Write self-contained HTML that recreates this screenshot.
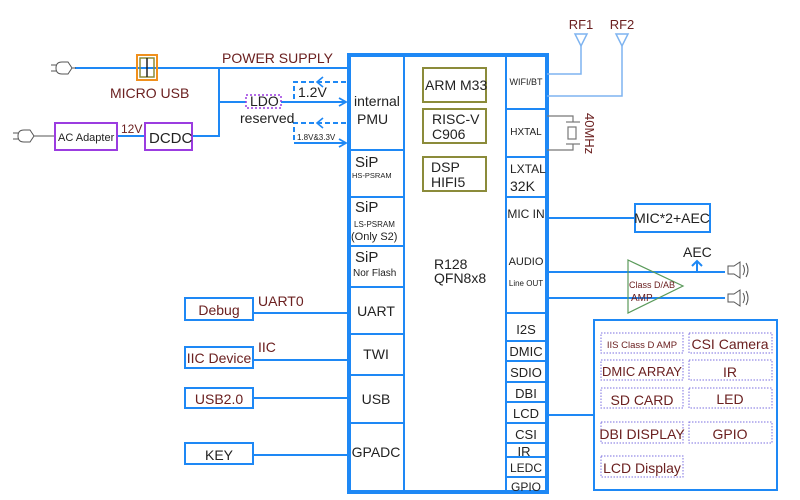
<!DOCTYPE html>
<html><head><meta charset="utf-8"><style>
html,body{margin:0;padding:0;background:#fff;}
svg{display:block;font-family:"Liberation Sans",sans-serif;}
</style></head><body>
<svg width="800" height="500" viewBox="0 0 800 500" xmlns="http://www.w3.org/2000/svg">
<defs>
<marker id="ar" markerWidth="10" markerHeight="10" refX="8" refY="5" orient="auto" markerUnits="userSpaceOnUse">
<path d="M1,1 L8,5 L1,9" fill="none" stroke="#1e88f5" stroke-width="1.8"/></marker>
</defs>
<g stroke="#1e88f5" fill="none" stroke-width="2">
<line x1="75" y1="68" x2="348" y2="68"/>
<line x1="219" y1="68" x2="219" y2="137"/>
<line x1="219" y1="102" x2="246" y2="102"/>
<line x1="281" y1="102" x2="346" y2="102" marker-end="url(#ar)"/>
<line x1="117" y1="136" x2="145" y2="136"/>
<line x1="192" y1="136" x2="219" y2="136"/>
<line x1="294" y1="143" x2="346" y2="143" marker-end="url(#ar)"/>
<g stroke-dasharray="5,3">
<polyline points="346,82 294,82 294,102"/>
<polyline points="346,123 294,123 294,143"/>
</g>
<path d="M323,77 L317,82 L323,87" stroke-width="1.6"/>
<path d="M323,118 L317,123 L323,128" stroke-width="1.6"/>
<line x1="253" y1="313" x2="349" y2="313"/>
<line x1="253" y1="360" x2="349" y2="360"/>
<line x1="253" y1="398" x2="349" y2="398"/>
<line x1="253" y1="455" x2="349" y2="455"/>
<rect x="185" y="298" width="68" height="22"/>
<rect x="185" y="347" width="68" height="21"/>
<rect x="185" y="388" width="68" height="20"/>
<rect x="185" y="443" width="68" height="21"/>
<line x1="547" y1="218" x2="635" y2="218"/>
<rect x="635" y="204" width="75" height="28"/>
<line x1="547" y1="272" x2="725" y2="272"/>
<line x1="547" y1="298" x2="725" y2="298"/>
<path d="M697,272 V262 M692,266 L697,261 L702,266"/>
<line x1="547" y1="415" x2="594" y2="415"/>
<rect x="594" y="320" width="183" height="170"/>
<rect x="349" y="55" width="198" height="437" stroke-width="4"/>
<line x1="404" y1="55" x2="404" y2="492"/>
<line x1="506" y1="55" x2="506" y2="492"/>
<path d="M349,150H404 M349,197H404 M349,246H404 M349,287H404 M349,334H404 M349,375H404 M349,423H404"/>
<path d="M506,109H547 M506,157H547 M506,197H547 M506,313H547 M506,341H547 M506,361H547 M506,382H547 M506,402H547 M506,423H547 M506,443H547 M506,457H547 M506,477H547"/>
</g>
<g stroke="#7fb4f0" fill="none" stroke-width="1.5">
<polyline points="547,74 581,74 581,46"/>
<polyline points="547,96 622,96 622,46"/>
<path d="M575,34 L587,34 L581,46 Z"/>
<path d="M616,34 L628,34 L622,46 Z"/>
</g>
<g stroke="#777" fill="none" stroke-width="1.2">
<polyline points="547,116 573,116 573,122"/>
<polyline points="547,150 573,150 573,144"/>
<line x1="566" y1="122" x2="580" y2="122"/><line x1="566" y1="144" x2="580" y2="144"/>
<rect x="568" y="127" width="8" height="12"/>
</g>
<text x="0" y="0" transform="translate(585,113) rotate(90)" font-size="13" fill="#6b2020">40MHz</text>
<path d="M628,260 L683,286 L628,313 Z" fill="none" stroke="#5a9a5a" stroke-width="1.2"/>
<text x="629" y="288" font-size="9" fill="#6b2020">Class D/AB</text>
<text x="631" y="301" font-size="10" fill="#6b2020">AMP</text>
<g stroke="#555" fill="none" stroke-width="1">
<path d="M728,266 L734,266 L740,262 L740,278 L734,274 L728,274 Z"/>
<path d="M743,265 Q746,270 743,275 M746,263 Q750,270 746,277"/>
<path d="M728,294 L734,294 L740,290 L740,306 L734,302 L728,302 Z"/>
<path d="M743,293 Q746,298 743,303 M746,291 Q750,298 746,305"/>
</g>
<text x="683" y="257" font-size="14" fill="#222">AEC</text>
<g stroke="#555" fill="none" stroke-width="1">
<path d="M68,62 L62,62 Q56,62 56,68 Q56,74 62,74 L68,74 L72,68 Z"/>
<path d="M56,65 H51 M56,71 H51 M72,68 H76"/>
<path d="M30,130 L24,130 Q18,130 18,136 Q18,142 24,142 L30,142 L34,136 Z"/>
<path d="M18,133 H13 M18,139 H13 M34,136 H55"/>
</g>
<rect x="137" y="55" width="20" height="25" fill="none" stroke="#f0901c" stroke-width="2"/>
<rect x="140" y="58" width="14" height="19" fill="none" stroke="#8b8b3a" stroke-width="1.5"/>
<line x1="147" y1="58" x2="147" y2="77" stroke="#222" stroke-width="1.5"/>
<rect x="55" y="123" width="62" height="27" fill="none" stroke="#9b3ce0" stroke-width="2"/>
<rect x="145" y="123" width="47" height="27" fill="none" stroke="#9b3ce0" stroke-width="2"/>
<rect x="246" y="95" width="35" height="13" fill="none" stroke="#9b3ce0" stroke-width="1.5" stroke-dasharray="2,2"/>
<g fill="none" stroke="#8b8b3a" stroke-width="2">
<rect x="423" y="68" width="63" height="34"/>
<rect x="423" y="109" width="63" height="34"/>
<rect x="423" y="157" width="63" height="34"/>
</g>
<g fill="none" stroke="#7b6fe0" stroke-width="1" stroke-dasharray="1.5,1.5">
<rect x="601" y="333" width="82" height="20"/><rect x="689" y="333" width="83" height="20"/>
<rect x="601" y="360" width="82" height="20"/><rect x="689" y="360" width="83" height="20"/>
<rect x="601" y="388" width="82" height="20"/><rect x="689" y="388" width="83" height="20"/>
<rect x="601" y="422" width="82" height="21"/><rect x="689" y="422" width="83" height="21"/>
<rect x="601" y="456" width="82" height="21"/>
</g>
<g fill="#6b2020" font-size="13">
<text x="222" y="63" font-size="14">POWER SUPPLY</text>
<text x="110" y="98" font-size="14">MICRO USB</text>
<text x="121" y="133" font-size="12">12V</text>
<text x="258" y="306" font-size="14">UART0</text>
<text x="258" y="352" font-size="14">IIC</text>
<text x="219" y="315" text-anchor="middle" font-size="14">Debug</text>
<text x="219" y="363" text-anchor="middle" font-size="14">IIC Device</text>
<text x="219" y="404" text-anchor="middle" font-size="14">USB2.0</text>
<text x="581" y="29" text-anchor="middle" font-size="13">RF1</text>
<text x="622" y="29" text-anchor="middle" font-size="13">RF2</text>
<text x="642" y="348" text-anchor="middle" font-size="9.5">IIS Class D AMP</text>
<text x="730" y="349" text-anchor="middle" font-size="14">CSI Camera</text>
<text x="642" y="376" text-anchor="middle" font-size="13">DMIC ARRAY</text>
<text x="730" y="377" text-anchor="middle" font-size="14">IR</text>
<text x="642" y="405" text-anchor="middle" font-size="14">SD CARD</text>
<text x="730" y="404" text-anchor="middle" font-size="14">LED</text>
<text x="642" y="439" text-anchor="middle" font-size="14">DBI DISPLAY</text>
<text x="730" y="439" text-anchor="middle" font-size="14">GPIO</text>
<text x="642" y="473" text-anchor="middle" font-size="14">LCD Display</text>
</g>
<g fill="#222" font-size="13">
<text x="58" y="141" font-size="11">AC Adapter</text>
<text x="149" y="143" font-size="15">DCDC</text>
<text x="250" y="106" font-size="14">LDO</text>
<text x="240" y="123" font-size="14">reserved</text>
<text x="298" y="97" font-size="14">1.2V</text>
<text x="297" y="140" font-size="8">1.8V&amp;3.3V</text>
<text x="219" y="460" text-anchor="middle" font-size="14">KEY</text>
<text x="672" y="223" text-anchor="middle" font-size="14">MIC*2+AEC</text>
<text x="354" y="106" font-size="14">internal</text>
<text x="357" y="124" font-size="14">PMU</text>
<text x="355" y="167" font-size="15">SiP</text>
<text x="352" y="178" font-size="7.5">HS-PSRAM</text>
<text x="355" y="212" font-size="15">SiP</text>
<text x="354" y="227" font-size="8">LS-PSRAM</text>
<text x="351" y="240" font-size="11">(Only S2)</text>
<text x="355" y="262" font-size="15">SiP</text>
<text x="353" y="276" font-size="10">Nor Flash</text>
<text x="376" y="316" text-anchor="middle" font-size="14">UART</text>
<text x="376" y="359" text-anchor="middle" font-size="14">TWI</text>
<text x="376" y="404" text-anchor="middle" font-size="14">USB</text>
<text x="376" y="457" text-anchor="middle" font-size="14">GPADC</text>
<text x="425" y="90" font-size="14">ARM M33</text>
<text x="432" y="124" font-size="14">RISC-V</text>
<text x="432" y="139" font-size="14">C906</text>
<text x="431" y="172" font-size="14">DSP</text>
<text x="431" y="187" font-size="14">HIFI5</text>
<text x="434" y="269" font-size="14">R128</text>
<text x="434" y="283" font-size="14">QFN8x8</text>
<text x="526" y="85" text-anchor="middle" font-size="9">WIFI/BT</text>
<text x="526" y="135" text-anchor="middle" font-size="10">HXTAL</text>
<text x="510" y="173" font-size="12">LXTAL</text>
<text x="510" y="191" font-size="14">32K</text>
<text x="526" y="218" text-anchor="middle" font-size="12">MIC IN</text>
<text x="526" y="265" text-anchor="middle" font-size="11">AUDIO</text>
<text x="526" y="286" text-anchor="middle" font-size="8">Line OUT</text>
<text x="526" y="334" text-anchor="middle" font-size="13">I2S</text>
<text x="526" y="356" text-anchor="middle" font-size="13">DMIC</text>
<text x="526" y="377" text-anchor="middle" font-size="13">SDIO</text>
<text x="526" y="398" text-anchor="middle" font-size="13">DBI</text>
<text x="526" y="418" text-anchor="middle" font-size="13">LCD</text>
<text x="526" y="439" text-anchor="middle" font-size="13">CSI</text>
<text x="524" y="456" text-anchor="middle" font-size="13">IR</text>
<text x="526" y="472" text-anchor="middle" font-size="12">LEDC</text>
<text x="526" y="491" text-anchor="middle" font-size="12">GPIO</text>
</g>
</svg>
</body></html>
